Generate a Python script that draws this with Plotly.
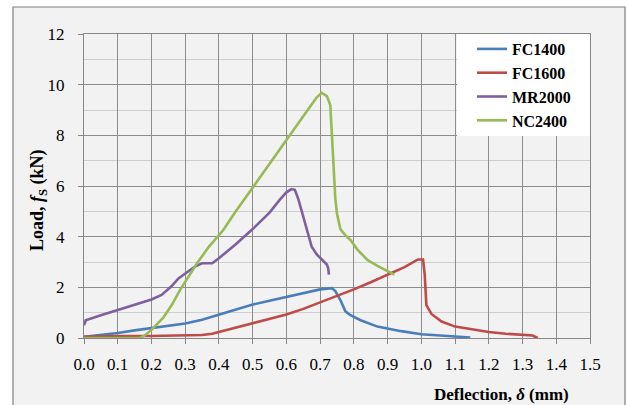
import plotly.graph_objects as go

# ---- data ----
fc1400_x = [0, 0.05, 0.1, 0.15, 0.2, 0.25, 0.3, 0.35, 0.4, 0.45, 0.5, 0.55, 0.6, 0.65, 0.7, 0.735,
            0.745, 0.76, 0.775, 0.79, 0.82, 0.87, 0.94, 1.0, 1.05, 1.1, 1.145]
fc1400_y = [0.05, 0.12, 0.2, 0.3, 0.38, 0.47, 0.57, 0.72, 0.93, 1.13, 1.32, 1.47, 1.62, 1.78, 1.92, 1.97,
            1.85, 1.5, 1.05, 0.9, 0.7, 0.45, 0.27, 0.15, 0.1, 0.05, 0.02]

fc1600_x = [0, 0.05, 0.1, 0.2, 0.3, 0.35, 0.38, 0.4, 0.45, 0.5, 0.55, 0.6, 0.65, 0.7, 0.75, 0.8, 0.85,
            0.9, 0.95, 0.99, 1.005, 1.01, 1.015, 1.03, 1.06, 1.1, 1.15, 1.2, 1.25, 1.3, 1.33, 1.345]
fc1600_y = [0.05, 0.07, 0.08, 0.08, 0.1, 0.12, 0.17, 0.24, 0.4, 0.56, 0.74, 0.93, 1.15, 1.4, 1.65, 1.92, 2.2,
            2.5, 2.8, 3.1, 3.1, 2.5, 1.3, 0.95, 0.65, 0.45, 0.33, 0.24, 0.17, 0.12, 0.1, 0.0]

mr2000_x = [0, 0.005, 0.05, 0.1, 0.15, 0.2, 0.23, 0.26, 0.28, 0.3, 0.33, 0.35, 0.38, 0.4, 0.45, 0.5,
            0.55, 0.58, 0.6, 0.615, 0.625, 0.635, 0.645, 0.655, 0.665, 0.675, 0.69, 0.71, 0.72, 0.724, 0.726]
mr2000_y = [0.5, 0.7, 0.9, 1.1, 1.33, 1.52, 1.7, 2.05, 2.35, 2.55, 2.83, 2.95, 2.95, 3.15, 3.7, 4.3,
            4.95, 5.45, 5.75, 5.88, 5.85, 5.5, 5.0, 4.6, 4.0, 3.6, 3.3, 3.05, 2.9, 2.75, 2.5]

nc2400_x = [0, 0.1, 0.165, 0.18, 0.2, 0.235, 0.26, 0.285, 0.31, 0.335, 0.37, 0.413, 0.45, 0.5, 0.55,
            0.6, 0.65, 0.69, 0.705, 0.72, 0.73, 0.735, 0.74, 0.745, 0.75, 0.76, 0.775, 0.79, 0.81, 0.84,
            0.87, 0.9, 0.92]
nc2400_y = [0, 0, 0, 0.1, 0.32, 0.8, 1.3, 1.9, 2.45, 2.95, 3.6, 4.26, 5.0, 5.95, 6.9,
            7.85, 8.75, 9.5, 9.68, 9.55, 9.2, 8.0, 6.5, 5.5, 4.9, 4.3, 4.05, 3.87, 3.5, 3.08,
            2.85, 2.65, 2.5]

series_names = ["FC1400", "FC1600", "MR2000", "NC2400"]
series_colors = ["#4a7ebb", "#be4b48", "#7d60a0", "#98b954"]

x_ticks = [round(0.1 * i, 1) for i in range(16)]
y_ticks = [0, 2, 4, 6, 8, 10, 12]

FONT = "Liberation Serif, Times New Roman, serif"

fig = go.Figure()
for name, xs, ys, col in zip(series_names,
                             [fc1400_x, fc1600_x, mr2000_x, nc2400_x],
                             [fc1400_y, fc1600_y, mr2000_y, nc2400_y],
                             series_colors):
    fig.add_trace(go.Scatter(x=xs, y=ys, mode="lines", name="<b>" + name + "</b>",
                             line=dict(color=col, width=2.6)))

W, H = 627, 405
L, R, T, B = 84, 37, 34, 67
pw, ph = W - L - R, H - T - B

def px2x(px):
    return (px - L) / pw

def py2y(py):
    return (H - B - py) / ph

fig.update_layout(
    width=W, height=H,
    margin=dict(l=L, r=R, t=T, b=B),
    paper_bgcolor="white",
    plot_bgcolor="white",
    font=dict(family=FONT, size=17, color="black"),
    showlegend=True,
    legend=dict(x=px2x(472), y=1 + 2 / ph, xanchor="left", yanchor="top",
                bgcolor="rgba(0,0,0,0)", borderwidth=0,
                font=dict(family=FONT, size=16, color="black"),
                tracegroupgap=0),
    shapes=[
        dict(type="rect", xref="paper", yref="paper",
             x0=px2x(13), x1=px2x(625), y0=py2y(420), y1=py2y(7),
             fillcolor="#f2f2f2", line=dict(color="#7f7f7f", width=1.2), layer="below"),
        dict(type="rect", xref="paper", yref="paper",
             x0=px2x(457), x1=1, y0=py2y(136), y1=1,
             fillcolor="white", line=dict(width=0), layer="above"),
    ],
    annotations=[
        dict(text="<b>Deflection, <i>δ</i> (mm)</b>", xref="paper", yref="paper",
             x=px2x(571), y=py2y(394), xanchor="right", yanchor="middle",
             showarrow=False, font=dict(family=FONT, size=17, color="black")),
        dict(text="<b>Load, <i>f</i><sub>S</sub> (kN)</b>", xref="paper", yref="paper",
             x=px2x(38), y=py2y(200), xanchor="center", yanchor="middle", textangle=-90,
             showarrow=False, font=dict(family=FONT, size=18, color="black")),
    ],
)

fig.update_xaxes(range=[0, 1.5], tickvals=x_ticks, tickformat=".1f",
                 showgrid=True, gridcolor="#8c8c8c", gridwidth=1,
                 showline=True, linecolor="#868686", linewidth=1, mirror=True,
                 ticks="outside", ticklen=5, tickcolor="#868686",
                 ticklabelstandoff=6,
                 zeroline=False, fixedrange=True,
                 tickfont=dict(family=FONT, size=17))
fig.update_yaxes(range=[0, 12], tickvals=y_ticks,
                 showgrid=True, gridcolor="#8c8c8c", gridwidth=1,
                 minor=dict(dtick=1, showgrid=True, gridcolor="#cfcfcf", gridwidth=1),
                 showline=True, linecolor="#868686", linewidth=1, mirror=True,
                 ticks="outside", ticklen=5, tickcolor="#868686",
                 ticklabelstandoff=10,
                 zeroline=False, fixedrange=True,
                 tickfont=dict(family=FONT, size=17))

fig.write_html("out.html")
